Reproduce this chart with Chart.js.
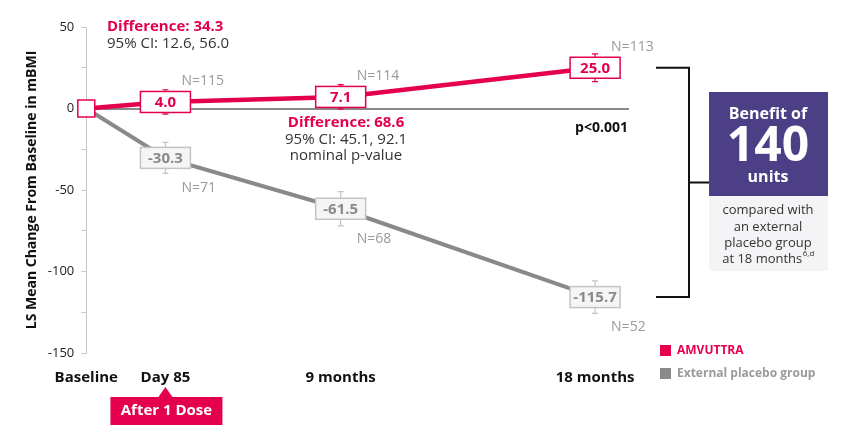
<!DOCTYPE html>
<html>
<head>
<meta charset="utf-8">
<script src="https://cdn.jsdelivr.net/npm/chart.js@4"></script>
<style>
  html, body { margin: 0; padding: 0; background: #fff; }
  #wrap { width: 860px; height: 428px; position: relative; }
</style>
</head>
<body>
<div id="wrap"><canvas id="mbmiChart"></canvas></div>
<script>
// Dados do gráfico
const xLabels = ['Baseline', 'Day 85', '9 months', '18 months'];
const xMonths = [0, 2.8, 9, 18];
const amvuttra = [0, 4.0, 7.1, 25.0];
const placebo = [0, -30.3, -61.5, -115.7];
const amvuttraErr = [0, 7.5, 7.5, 8.5];
const placeboErr = [0, 9.5, 10.5, 10];
const amvuttraN = [null, 115, 114, 113];
const placeboN = [null, 71, 68, 52];
const yMin = -150;
const yMax = 50;

const PINK = '#e4004f';
const GREY = '#898989';
const PURPLE = '#4c3f85';
const FONT = "'Open Sans', sans-serif";

Chart.defaults.font.family = FONT;

function font(size, weight) {
    return (weight || 'normal') + ' ' + size + 'px ' + FONT;
}

function toPoints(values) {
    return values.map((v, i) => ({ x: xMonths[i], y: v }));
}

// Caixas com valores, barras de erro e rótulos N
const markerPlugin = {
    id: 'markers',
    afterDatasetsDraw(chart) {
        const ctx = chart.ctx;
        const yScale = chart.scales.y;
        const order = chart.data.datasets.map((d, i) => i).reverse();
        order.forEach(di => {
            const ds = chart.data.datasets[di];
            const meta = chart.getDatasetMeta(di);
            meta.data.forEach((pt, i) => {
                if (i === 0) return;
                const v = ds.data[i].y;
                const err = ds.errors[i];
                const top = yScale.getPixelForValue(v + err);
                const bot = yScale.getPixelForValue(v - err);
                ctx.save();
                // barra de erro
                ctx.strokeStyle = ds.markerStroke;
                ctx.lineWidth = 1.2;
                ctx.beginPath();
                ctx.moveTo(pt.x, top); ctx.lineTo(pt.x, bot);
                ctx.moveTo(pt.x - 3, top); ctx.lineTo(pt.x + 3, top);
                ctx.moveTo(pt.x - 3, bot); ctx.lineTo(pt.x + 3, bot);
                ctx.stroke();
                // caixa
                ctx.fillStyle = ds.markerFill;
                ctx.fillRect(pt.x - 25, pt.y - 10.5, 50, 21);
                ctx.lineWidth = 1.5;
                ctx.strokeRect(pt.x - 25, pt.y - 10.5, 50, 21);
                ctx.fillStyle = ds.markerText;
                ctx.font = font(15, 'bold');
                ctx.textAlign = 'center';
                ctx.textBaseline = 'middle';
                ctx.fillText(v.toFixed(1), pt.x, pt.y + 1);
                // N
                if (ds.counts[i] != null) {
                    ctx.fillStyle = '#9a9a9a';
                    ctx.font = font(14);
                    ctx.textAlign = 'left';
                    ctx.fillText('N=' + ds.counts[i], pt.x + 16, pt.y + ds.countOffset);
                }
                ctx.restore();
            });
        });
    }
};

// Textos, chave e quadro de benefício
const notesPlugin = {
    id: 'notes',
    afterDraw(chart) {
        const ctx = chart.ctx;
        const xScale = chart.scales.x;
        const yScale = chart.scales.y;
        ctx.save();
        ctx.textBaseline = 'middle';

        // Diferença no dia 85
        ctx.textAlign = 'left';
        ctx.fillStyle = PINK;
        ctx.font = font(15, 'bold');
        ctx.fillText('Difference: 34.3', 107, 27);
        ctx.fillStyle = '#333';
        ctx.font = font(15);
        ctx.fillText('95% CI: 12.6, 56.0', 107, 44);

        // Diferença aos 9 meses
        ctx.textAlign = 'center';
        ctx.fillStyle = PINK;
        ctx.font = font(15, 'bold');
        ctx.fillText('Difference: 68.6', 346, 123);
        ctx.fillStyle = '#333';
        ctx.font = font(15);
        ctx.fillText('95% CI: 45.1, 92.1', 346, 140);
        ctx.fillText('nominal p-value', 346, 156);

        ctx.textAlign = 'right';
        ctx.fillStyle = '#111';
        ctx.font = font(14, 'bold');
        ctx.fillText('p<0.001', 628, 128);

        // Chave
        const yTop = yScale.getPixelForValue(amvuttra[3]);
        const yBot = yScale.getPixelForValue(placebo[3]);
        const yMid = (yTop + yBot) / 2;
        ctx.strokeStyle = '#111';
        ctx.lineWidth = 2;
        ctx.beginPath();
        ctx.moveTo(656, yTop); ctx.lineTo(689, yTop); ctx.lineTo(689, yBot); ctx.lineTo(656, yBot);
        ctx.moveTo(689, yMid); ctx.lineTo(709, yMid);
        ctx.stroke();

        // Quadro de benefício
        ctx.fillStyle = PURPLE;
        ctx.fillRect(709, 92, 119, 104);
        ctx.fillStyle = '#f4f4f6';
        ctx.fillRect(709, 196, 119, 75);
        ctx.textAlign = 'center';
        ctx.fillStyle = '#fff';
        ctx.font = font(16, 'bold');
        ctx.fillText('Benefit of', 768, 114);
        ctx.font = font(48, 'bold');
        ctx.fillText('140', 768, 147);
        ctx.font = font(16, 'bold');
        ctx.fillText('units', 768, 177);

        ctx.fillStyle = '#333';
        ctx.font = font(13);
        ctx.fillText('compared with', 768, 210);
        ctx.fillText('an external', 768, 227);
        ctx.fillText('placebo group', 768, 243);
        const main = 'at 18 months';
        const sup = '6,d';
        const wMain = ctx.measureText(main).width;
        ctx.font = font(8);
        const wSup = ctx.measureText(sup).width;
        const startX = 768 - (wMain + wSup) / 2;
        ctx.textAlign = 'left';
        ctx.font = font(13);
        ctx.fillText(main, startX, 259);
        ctx.font = font(8);
        ctx.fillText(sup, startX + wMain + 0.5, 254);

        // Legenda
        chart.data.datasets.forEach((ds, i) => {
            const ly = 351 + i * 23;
            ctx.fillStyle = ds.borderColor;
            ctx.fillRect(660, ly - 6, 11, 11);
            ctx.fillStyle = ds.legendText;
            ctx.font = font(12, 'bold');
            ctx.textAlign = 'left';
            ctx.fillText(ds.label, 677, ly);
        });

        // Após 1 dose
        const dx = xScale.getPixelForValue(xMonths[1]);
        ctx.fillStyle = PINK;
        ctx.beginPath();
        ctx.moveTo(dx, 387); ctx.lineTo(dx + 7, 397); ctx.lineTo(dx - 7, 397);
        ctx.closePath();
        ctx.fill();
        ctx.fillRect(dx - 55, 397, 112, 28);
        ctx.fillStyle = '#fff';
        ctx.font = font(15, 'bold');
        ctx.textAlign = 'center';
        ctx.fillText('After 1 Dose', dx + 1, 411);

        ctx.restore();
    }
};

const chart = new Chart(document.getElementById('mbmiChart'), {
    type: 'line',
    data: {
        datasets: [
            {
                label: 'AMVUTTRA',
                data: toPoints(amvuttra),
                errors: amvuttraErr,
                counts: amvuttraN,
                countOffset: -21,
                markerFill: '#ffffff',
                markerStroke: PINK,
                markerText: PINK,
                legendText: PINK,
                borderColor: PINK,
                borderWidth: 4.5,
                pointStyle: 'rect',
                pointRadius: ctx => ctx.dataIndex === 0 ? 12 : 0,
                pointBackgroundColor: '#ffffff',
                pointBorderColor: PINK,
                pointBorderWidth: 1.5,
                clip: false,
                tension: 0
            },
            {
                label: 'External placebo group',
                data: toPoints(placebo),
                errors: placeboErr,
                counts: placeboN,
                countOffset: 30,
                markerFill: '#f5f5f5',
                markerStroke: '#c4c4c4',
                markerText: '#8a8a8a',
                legendText: '#9a9a9a',
                borderColor: GREY,
                borderWidth: 4,
                pointRadius: 0,
                clip: false,
                tension: 0
            }
        ]
    },
    options: {
        responsive: true,
        maintainAspectRatio: false,
        animation: false,
        events: [],
        layout: {
            padding: { top: 27, right: 231, bottom: 33, left: 24 }
        },
        plugins: {
            legend: { display: false },
            tooltip: { enabled: false }
        },
        scales: {
            x: {
                type: 'linear',
                min: 0,
                max: 19.2,
                grid: { display: false },
                border: { display: false },
                afterBuildTicks: scale => {
                    scale.ticks = xMonths.map(v => ({ value: v }));
                },
                ticks: {
                    autoSkip: false,
                    maxRotation: 0,
                    padding: 8,
                    color: '#111',
                    font: { size: 15, weight: 'bold' },
                    callback: (value, index) => xLabels[index]
                }
            },
            y: {
                min: yMin,
                max: yMax,
                border: { display: true, color: '#c8c8c8', width: 1 },
                grid: {
                    drawOnChartArea: true,
                    drawTicks: true,
                    tickLength: 5,
                    tickColor: '#c8c8c8',
                    tickWidth: 1,
                    color: ctx => ctx.tick && ctx.tick.value === 0 ? '#8a8a8a' : 'rgba(0,0,0,0)',
                    lineWidth: ctx => ctx.tick && ctx.tick.value === 0 ? 2 : 1
                },
                ticks: {
                    stepSize: 25,
                    padding: 7,
                    color: '#222',
                    font: { size: 13 },
                    callback: v => v % 50 === 0 ? v : ''
                },
                title: {
                    display: true,
                    text: 'LS Mean Change From Baseline in mBMI',
                    color: '#111',
                    font: { size: 14, weight: 'bold' },
                    padding: { top: 0, bottom: 0 }
                }
            }
        }
    },
    plugins: [markerPlugin, notesPlugin]
});
</script>
</body>
</html>
